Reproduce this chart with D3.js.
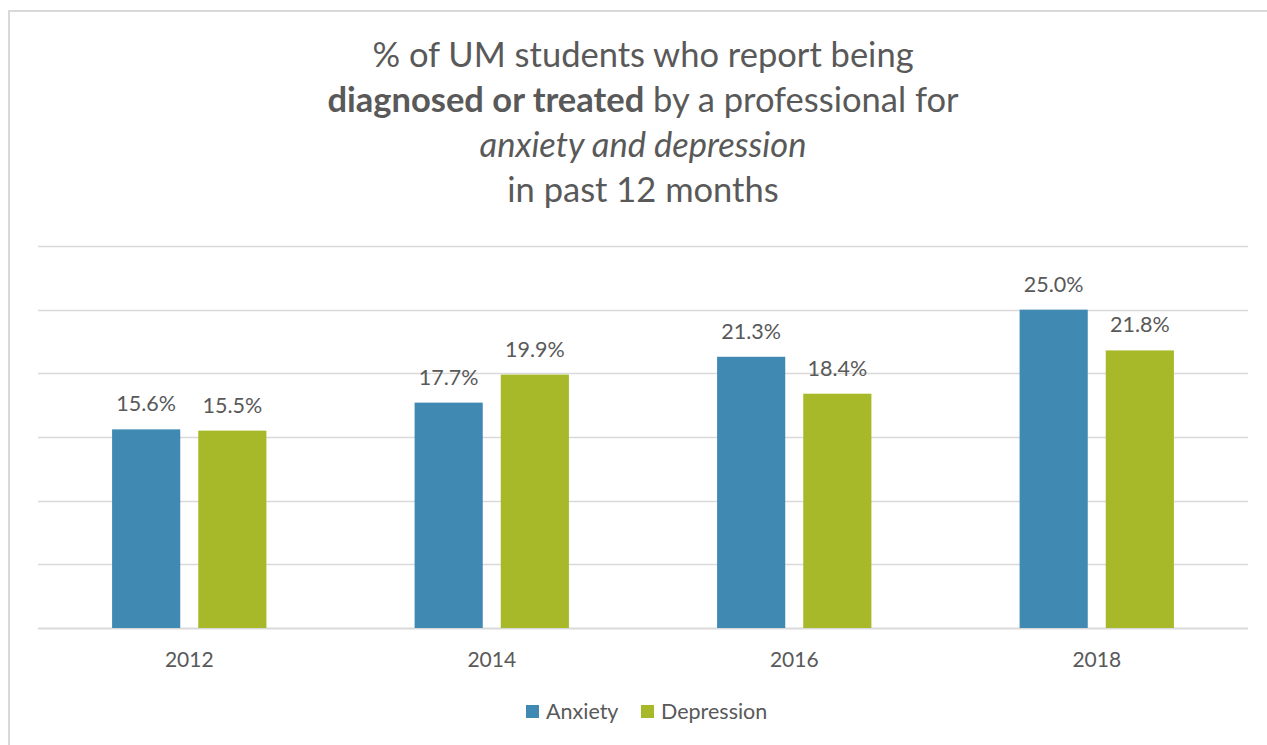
<!DOCTYPE html>
<html>
<head>
<meta charset="utf-8">
<script src="https://cdn.jsdelivr.net/npm/d3@7/dist/d3.min.js"></script>
<style>
  html, body { margin: 0; padding: 0; background: #fff; }
  svg { display: block; }
  text { font-family: Lato, "Open Sans", sans-serif; fill: #595959; }
</style>
</head>
<body>
<svg id="chart" width="1267" height="745"></svg>
<script>
// Survey years and the two reported conditions
const years = ["2012", "2014", "2016", "2018"];
const seriesNames = ["Anxiety", "Depression"];
const anxiety = [15.6, 17.7, 21.3, 25.0];
const depression = [15.5, 19.9, 18.4, 21.8];
const yTicks = [0, 5, 10, 15, 20, 25, 30];
const colors = ["#3f89b2", "#a7b828"];

const svg = d3.select("#chart");
const W = 1267, H = 745;

// outer frame (right and bottom edges run off the canvas)
svg.append("rect")
  .attr("x", 9).attr("y", 11)
  .attr("width", W + 20).attr("height", H + 20)
  .attr("fill", "#fff").attr("stroke", "#d9d9d9").attr("stroke-width", 2);

// title
const title = svg.append("text")
  .attr("text-anchor", "middle")
  .style("font-size", "34.5px");
const tx = 643;
title.append("tspan").attr("x", tx).attr("y", 67).text("% of UM students who report being");
const l2 = title.append("tspan").attr("x", tx).attr("y", 112);
l2.append("tspan").style("font-weight", "bold").text("diagnosed or treated");
l2.append("tspan").text(" by a professional for");
title.append("tspan").attr("x", tx).attr("y", 157).style("font-style", "italic").text("anxiety and depression");
title.append("tspan").attr("x", tx).attr("y", 202).text("in past 12 months");

const plot = { left: 38, right: 1248, top: 246, bottom: 628 };

const x = d3.scaleBand().domain(years).range([plot.left, plot.right]).paddingInner(0).paddingOuter(0);
const inner = d3.scaleBand().domain(seriesNames)
  .range([0, x.bandwidth()]).paddingInner(0.209).paddingOuter(0.86);
const y = d3.scaleLinear().domain([0, 30]).range([plot.bottom, plot.top]);

// gridlines
svg.append("g")
  .selectAll("line")
  .data(yTicks)
  .join("line")
  .attr("x1", plot.left).attr("x2", plot.right)
  .attr("y1", d => Math.round(y(d)) + 0.5).attr("y2", d => Math.round(y(d)) + 0.5)
  .attr("stroke", "#d9d9d9").attr("stroke-width", d => d === 0 ? 2 : 1.3);

// bars
const rows = years.map((yr, i) => ({ year: yr, values: [anxiety[i], depression[i]] }));
const groups = svg.append("g").selectAll("g")
  .data(rows).join("g")
  .attr("transform", d => `translate(${x(d.year)},0)`);

groups.selectAll("rect")
  .data(d => d.values.map((v, j) => ({ name: seriesNames[j], v, j })))
  .join("rect")
  .attr("x", d => inner(d.name))
  .attr("width", inner.bandwidth())
  .attr("y", d => y(d.v))
  .attr("height", d => y(0) - y(d.v))
  .attr("fill", d => colors[d.j]);

groups.selectAll("text.val")
  .data(d => d.values.map((v, j) => ({ name: seriesNames[j], v, j })))
  .join("text")
  .attr("class", "val")
  .attr("text-anchor", "middle")
  .attr("x", d => inner(d.name) + inner.bandwidth() / 2)
  .attr("y", d => y(d.v) - 18)
  .style("font-size", "21.5px")
  .text(d => d.v.toFixed(1) + "%");

// x axis labels
const xAxis = d3.axisBottom(x).tickSize(0).tickPadding(0);
const xg = svg.append("g").attr("transform", `translate(0,${plot.bottom})`).call(xAxis);
xg.select(".domain").remove();
xg.selectAll("text")
  .attr("y", 39)
  .attr("dy", 0)
  .style("font-size", "21px")
  .style("font-family", "Lato, sans-serif")
  .attr("fill", "#595959");

// legend
const legend = svg.append("g").attr("transform", "translate(526,705)");
const items = [{ name: "Anxiety", x: 0 }, { name: "Depression", x: 115 }];
items.forEach((it, i) => {
  legend.append("rect").attr("x", it.x).attr("y", 0).attr("width", 13).attr("height", 13).attr("fill", colors[i]);
  legend.append("text").attr("x", it.x + 20).attr("y", 14).style("font-size", "21.5px").text(it.name);
});
</script>
</body>
</html>
